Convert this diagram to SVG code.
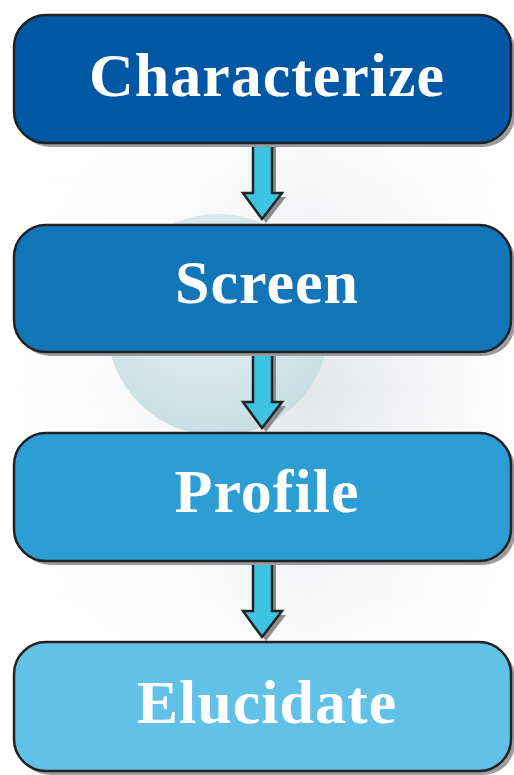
<svg xmlns="http://www.w3.org/2000/svg" width="514" height="775" viewBox="0 0 514 775">
<style>
.box{stroke:#222;stroke-width:2.5}
.sh{fill:#9a9ca0}
.lbl{font-family:"Liberation Serif","Times New Roman",serif;font-weight:bold;font-size:62px;fill:#fff;text-anchor:middle;letter-spacing:1px}
.arr{fill:#3ec4e3;stroke:#222;stroke-width:2.5;stroke-linejoin:miter}
.ash{fill:#8a8c90}
</style>
<defs>
<radialGradient id="sph" cx="0.45" cy="0.35" r="0.7">
<stop offset="0" stop-color="#eaf3f4"/>
<stop offset="1" stop-color="#c6dde3"/>
</radialGradient>
<linearGradient id="bg" x1="0" y1="0" x2="1" y2="0">
<stop offset="0" stop-color="#ffffff"/>
<stop offset="0.35" stop-color="#eceef1"/>
<stop offset="0.6" stop-color="#c8cbd2"/>
<stop offset="1" stop-color="#ffffff"/>
</linearGradient>
<linearGradient id="fade" x1="0" y1="0" x2="0" y2="1">
<stop offset="0" stop-color="#fff" stop-opacity="0.2"/>
<stop offset="0.5" stop-color="#fff" stop-opacity="1"/>
<stop offset="1" stop-color="#fff" stop-opacity="0.2"/>
</linearGradient>
<mask id="m"><rect x="0" y="140" width="514" height="500" fill="url(#fade)"/></mask>
</defs>
<rect width="514" height="775" fill="#fff"/>
<rect x="0" y="140" width="514" height="500" fill="url(#bg)" opacity="0.5" mask="url(#m)"/>
<circle cx="218" cy="325" r="111" fill="url(#sph)"/>
<g id="connectors">
<polygon class="ash" points="257,147 276,147 276,197 286,197 266,223 246,197 257,197"/>
<polygon class="arr" points="253,143 272,143 272,193 282,193 262,219 243,193 253,193"/>
<polygon class="ash" points="257,356 276,356 276,406 286,406 266,432 246,406 257,406"/>
<polygon class="arr" points="253,352 272,352 272,402 282,402 262,428 243,402 253,402"/>
<polygon class="ash" points="257,565 276,565 276,615 286,615 266,641 246,615 257,615"/>
<polygon class="arr" points="253,561 272,561 272,611 282,611 262,637 243,611 253,611"/>
</g>
<g id="characterize">
<rect class="sh" x="18" y="19" width="497" height="128" rx="32"/>
<rect class="box" x="14" y="15" width="497" height="128" rx="32" fill="#0057a4"/>
<text class="lbl" x="267" y="96">Characterize</text>
</g>
<g id="screen">
<rect class="sh" x="18" y="229" width="497" height="127" rx="32"/>
<rect class="box" x="14" y="225" width="497" height="127" rx="32" fill="#1275b8"/>
<text class="lbl" x="267" y="303">Screen</text>
</g>
<g id="profile">
<rect class="sh" x="18" y="437" width="497" height="128" rx="32"/>
<rect class="box" x="14" y="433" width="497" height="128" rx="32" fill="#2c9ed4"/>
<text class="lbl" x="267" y="512">Profile</text>
</g>
<g id="elucidate">
<rect class="sh" x="18" y="646" width="497" height="129" rx="32"/>
<rect class="box" x="14" y="642" width="497" height="129" rx="32" fill="#61c1e6"/>
<text class="lbl" x="267" y="723">Elucidate</text>
</g>
</svg>
